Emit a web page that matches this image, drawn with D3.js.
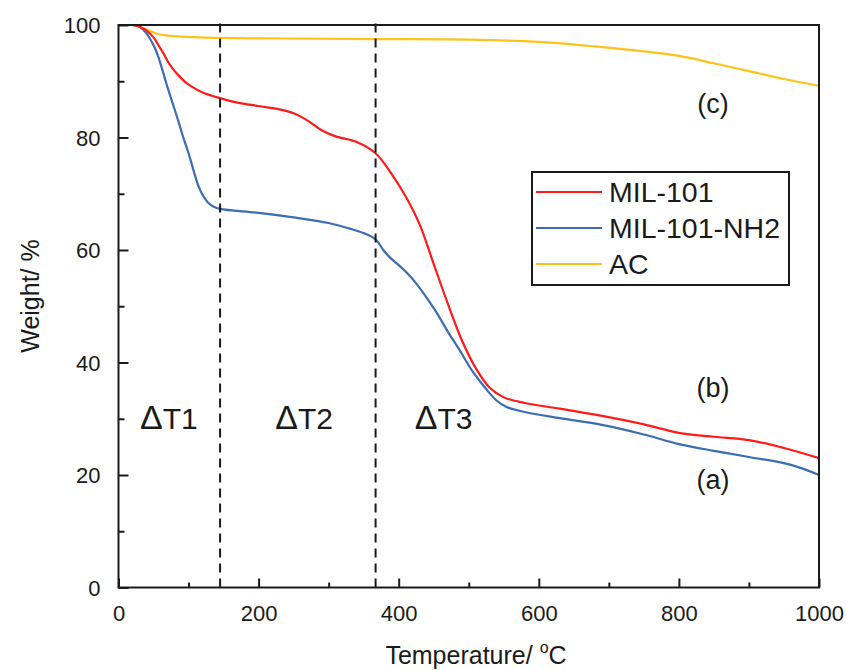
<!DOCTYPE html>
<html><head><meta charset="utf-8">
<script src="https://cdn.jsdelivr.net/npm/d3@7"></script>
<style>body{margin:0;background:#fff}svg text{font-family:"Liberation Sans",Arial,sans-serif;fill:#1a1a1a}</style>
</head><body><div id="c"></div>
<script>
const seriesNames = ["MIL-101","MIL-101-NH2","AC"];
const seriesColors = ["#ff1a1a","#3b6db3","#ffc21a"];
const redT = [20,30,40,50,57,64,70,77,86,95,104,120,145,170,200,230,250,270,290,310,340,367,390,410,430,450,470,490,510,530,550,580,630,690,750,800,850,900,950,1000];
const redW = [100,99.7,99,97.8,96.4,95,93.6,92.3,91.0,89.9,89.1,88.0,87.0,86.2,85.6,85.0,84.3,83.0,81.3,80.2,79.2,77.2,73.5,69.5,64.5,57.5,50.5,44.0,39.0,35.5,33.8,32.8,31.8,30.5,29.0,27.5,26.8,26.2,24.8,23.0];
const blueT = [20,30,40,50,55,62,69,77,85,92,100,107,114,121,128,136,145,200,250,300,330,350,367,378,388,400,412,426,440,455,470,487,505,526,540,554,580,630,690,750,800,850,900,960,1000];
const blueW = [100,99.7,98.5,96.4,95,92.3,89.3,86.2,83.1,80.2,77.2,74.2,71.4,69.6,68.4,67.7,67.3,66.6,65.8,64.8,63.8,63.0,61.9,60.0,58.6,57.3,55.9,53.9,51.5,48.7,45.5,42.2,38.5,35.1,33.2,32.1,31.2,30.1,28.9,27.2,25.5,24.3,23.2,21.8,20.0];
const acT = [20,30,40,54,70,100,145,250,367,500,600,680,750,800,850,900,950,1000];
const acW = [100,99.7,99.2,98.5,98.1,97.9,97.7,97.6,97.5,97.4,97.0,96.2,95.3,94.5,93.2,91.8,90.4,89.2];
const xTicks = [0,200,400,600,800,1000];
const xMinor = [100,300,500,700,900];
const yTicks = [0,20,40,60,80,100];
const yMinor = [10,30,50,70,90];
const dividers = [145,367];
const regionLabels = [{t:"T1",x:72},{t:"T2",x:265},{t:"T3",x:464}];
const curveLabels = [{t:"(c)",y:86},{t:"(b)",y:35.4},{t:"(a)",y:19.2}];

const W=846,H=670;
const svg=d3.select("#c").append("svg").attr("width",W).attr("height",H);
const x=d3.scaleLinear().domain([0,1000]).range([118.5,819]);
const y=d3.scaleLinear().domain([0,100]).range([587.5,25]);

const data=[d3.zip(redT,redW),d3.zip(blueT,blueW),d3.zip(acT,acW)];
const line=d3.line().x(d=>x(d[0])).y(d=>y(d[1])).curve(d3.curveCatmullRom.alpha(0.5));
[2,1,0].forEach(i=>{
  svg.append("path").attr("d",line(data[i])).attr("fill","none")
    .attr("stroke",seriesColors[i]).attr("stroke-width",2.2).attr("stroke-linejoin","round");
});

dividers.forEach(v=>{
  svg.append("line").attr("x1",x(v)).attr("x2",x(v)).attr("y1",y(0)).attr("y2",y(100)-4)
    .attr("stroke","#1a1a1a").attr("stroke-width",2).attr("stroke-dasharray","9,6");
});

svg.append("rect").attr("x",x(0)).attr("y",y(100)).attr("width",x(1000)-x(0)).attr("height",y(0)-y(100))
  .attr("fill","none").attr("stroke","#1a1a1a").attr("stroke-width",2);

const gx=svg.append("g").attr("transform",`translate(0,${y(0)})`);
gx.call(d3.axisBottom(x).tickValues(xTicks).tickSize(-9).tickPadding(18).tickFormat(d3.format("d")));
const gxm=svg.append("g").attr("transform",`translate(0,${y(0)})`);
gxm.call(d3.axisBottom(x).tickValues(xMinor).tickSize(-5).tickFormat(""));
const gy=svg.append("g").attr("transform",`translate(${x(0)},0)`);
gy.call(d3.axisLeft(y).tickValues(yTicks).tickSize(-10).tickPadding(18).tickFormat(d3.format("d")));
const gym=svg.append("g").attr("transform",`translate(${x(0)},0)`);
gym.call(d3.axisLeft(y).tickValues(yMinor).tickSize(-6).tickFormat(""));
[gx,gxm,gy,gym].forEach(g=>{
  g.select(".domain").remove();
  g.selectAll(".tick line").attr("stroke","#1a1a1a").attr("stroke-width",2);
  g.selectAll("text").attr("font-size",22).attr("fill","#1a1a1a");
});
gx.selectAll("text").attr("dy","0.71em");
gy.selectAll("text").attr("dy","0.35em");

const xt=svg.append("text").attr("x",476).attr("y",664).attr("text-anchor","middle").attr("font-size",25);
xt.append("tspan").text("Temperature/ ");
xt.append("tspan").attr("font-size",16).attr("dy",-11).text("o");
xt.append("tspan").attr("dy",11).text("C");
svg.append("text").attr("transform","translate(39,296) rotate(-90)").attr("text-anchor","middle")
  .attr("font-size",25).text("Weight/ %");

regionLabels.forEach(d=>{
  const t=svg.append("text").attr("x",x(d.x)).attr("y",429).attr("text-anchor","middle").attr("font-size",30);
  t.append("tspan").attr("font-size",34).text("Δ");
  t.append("tspan").text(d.t);
});
curveLabels.forEach(d=>{
  svg.append("text").attr("x",713).attr("y",y(d.y)+9).attr("text-anchor","middle").attr("font-size",27).text(d.t);
});

const lg=svg.append("g");
lg.append("rect").attr("x",532).attr("y",172).attr("width",257).attr("height",113)
  .attr("fill","#fff").attr("stroke","#1a1a1a").attr("stroke-width",2);
seriesNames.forEach((n,i)=>{
  const yy=192+i*36;
  lg.append("line").attr("x1",536).attr("x2",602).attr("y1",yy).attr("y2",yy).attr("stroke",seriesColors[i]).attr("stroke-width",2.2);
  lg.append("text").attr("x",609).attr("y",yy+10).attr("font-size",28.5).text(n);
});
</script></body></html>
